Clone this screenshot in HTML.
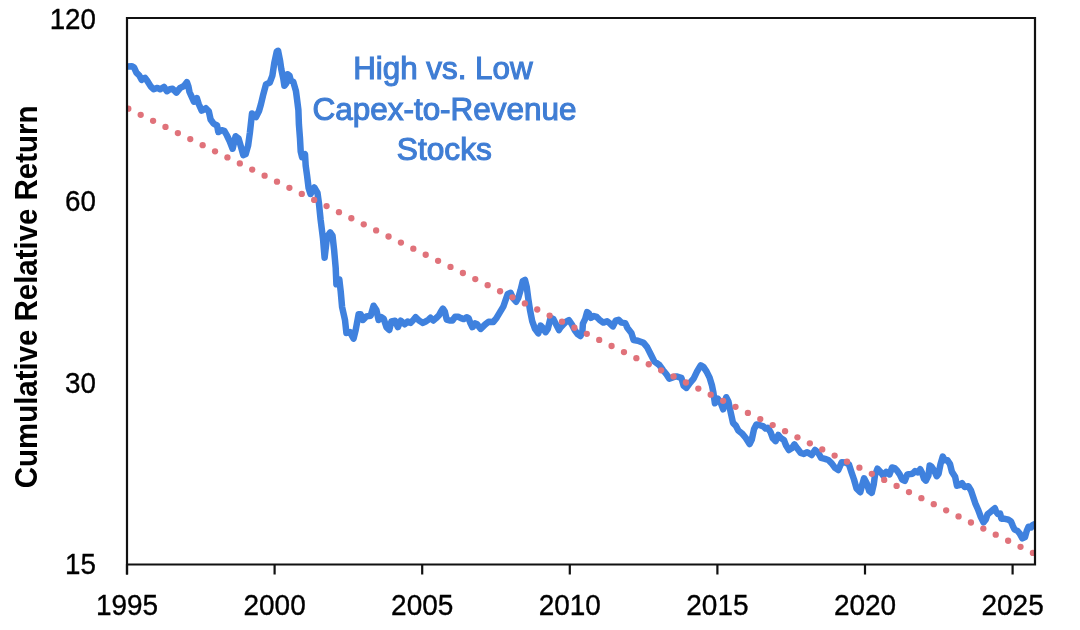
<!DOCTYPE html>
<html><head><meta charset="utf-8"><style>
html,body{margin:0;padding:0;background:#fff;}
svg{display:block;will-change:transform;}
text{font-family:"Liberation Sans",sans-serif;}
</style></head><body>
<svg width="1080" height="630" viewBox="0 0 1080 630">
<rect width="1080" height="630" fill="#fff"/>
<defs><clipPath id="c"><rect x="127" y="18" width="908" height="547"/></clipPath></defs>
<g clip-path="url(#c)">
<polyline points="127.4,66.4 131.7,66.2 134.0,67.4 136.4,72.6 139.3,75.5 141.7,79.8 145.0,77.9 146.9,80.2 150.7,86.4 153.6,89.3 157.4,87.9 160.2,89.3 164.0,86.9 166.9,91.2 169.8,89.3 172.6,88.8 176.4,92.6 180.2,87.9 184.0,86.0 186.9,82.1 188.3,86.0 189.5,92.0 191.5,96.3 193.9,101.7 196.9,98.1 198.7,104.0 201.7,110.6 205.8,108.2 208.8,111.2 210.6,119.5 213.6,123.7 217.1,125.5 218.3,132.0 221.9,130.2 224.3,130.8 226.7,135.0 229.6,141.0 232.6,148.7 235.6,136.2 238.6,138.6 241.0,146.9 243.3,155.2 245.7,154.0 248.1,145.7 249.9,132.6 252.0,113.5 256.0,117.0 259.0,111.0 261.0,104.0 262.9,95.9 266.0,84.4 269.8,82.5 272.4,75.6 274.3,62.9 276.8,51.4 278.1,50.8 280.0,60.3 281.3,69.2 283.2,78.1 284.4,85.7 286.3,83.2 287.6,74.3 289.5,75.6 290.8,80.6 293.3,81.9 295.9,90.8 297.1,99.7 298.4,110.0 298.9,124.3 300.0,138.6 300.7,151.4 302.1,157.1 305.0,154.3 305.7,165.7 307.1,175.7 308.6,188.0 310.5,194.0 314.3,187.5 317.5,193.0 319.0,203.8 320.6,219.7 323.0,238.7 324.6,257.8 327.0,237.1 330.2,232.4 332.5,235.6 334.1,249.8 335.7,268.0 336.4,284.3 339.3,279.3 340.7,291.4 342.1,307.1 345.0,320.0 346.4,332.9 350.0,332.1 353.6,338.6 355.7,330.0 358.6,314.3 360.7,314.3 362.9,320.0 366.4,316.4 370.7,315.7 373.6,305.7 376.4,310.0 378.6,320.0 381.4,317.1 383.6,318.6 386.4,327.1 389.3,330.0 391.4,321.4 395.0,320.7 397.9,327.1 400.7,320.7 404.8,324.3 407.6,321.5 410.5,322.9 412.9,320.5 415.7,317.2 419.0,320.5 422.9,322.9 425.7,321.5 428.6,319.6 430.5,317.7 433.3,320.5 436.2,318.1 439.0,315.3 441.0,311.5 442.9,308.6 444.8,311.5 446.7,319.6 449.5,320.5 452.4,320.5 455.2,316.7 458.1,316.7 461.0,318.1 463.8,319.1 466.7,317.2 468.6,318.1 470.5,323.4 472.4,327.2 475.2,323.4 477.1,324.3 480.7,328.9 485.0,324.6 488.6,321.7 493.3,322.1 496.7,317.7 500.0,312.2 503.3,306.7 505.6,300.0 507.8,293.9 510.6,292.8 512.8,297.8 516.1,301.7 518.3,297.8 520.6,290.0 522.8,281.1 525.0,280.0 526.7,286.7 528.3,298.9 530.0,310.0 532.2,321.1 535.0,328.9 538.3,333.3 540.6,325.6 542.8,327.8 545.6,332.2 547.8,328.9 550.6,317.8 553.3,318.9 556.7,325.6 559.0,330.0 560.5,327.4 563.3,324.5 566.2,321.7 569.0,320.2 571.9,324.5 574.8,330.2 577.6,334.0 580.5,336.0 582.4,331.2 582.9,323.6 585.2,318.8 587.1,312.1 589.0,313.6 591.0,317.9 593.8,316.0 596.7,316.9 599.5,319.8 603.3,322.6 607.1,321.2 610.0,323.6 612.9,326.4 615.7,320.7 618.6,319.8 621.4,322.6 625.2,323.1 627.5,328.0 631.4,332.9 633.6,340.0 637.9,340.7 643.6,342.9 647.1,347.1 650.7,354.3 654.3,361.4 659.3,365.0 662.9,370.0 666.4,374.3 669.3,378.6 673.6,377.1 676.4,376.4 681.4,377.9 683.6,385.7 686.4,387.9 690.0,382.9 693.6,378.6 697.1,371.4 700.7,365.3 703.6,367.1 706.6,371.6 709.6,377.6 711.9,385.2 713.4,392.7 714.9,403.3 717.9,398.7 720.9,403.3 723.2,409.3 726.2,397.2 728.5,401.8 730.7,412.3 733.0,422.9 736.0,425.9 738.3,430.4 742.0,433.4 745.8,438.0 749.6,444.0 751.8,439.5 754.1,428.9 756.4,424.4 759.4,425.0 763.3,426.4 765.6,428.5 767.8,427.8 770.6,432.2 772.8,438.3 775.6,441.1 778.3,435.0 781.1,438.3 783.9,440.0 786.1,445.6 788.9,450.0 791.7,448.3 794.4,444.4 797.2,448.3 800.6,452.8 803.9,453.9 807.2,452.2 811.7,455.0 815.0,450.0 818.3,452.8 821.1,457.8 825.0,458.9 828.3,460.0 831.7,463.3 835.0,467.8 838.3,470.0 841.7,462.2 845.1,462.4 848.9,464.3 851.4,471.9 854.0,479.5 856.5,488.4 860.3,492.2 862.2,484.6 864.1,478.3 866.7,483.3 869.2,491.0 871.7,492.9 873.7,484.6 874.9,475.7 877.5,468.7 880.6,471.9 883.2,475.7 886.3,471.9 889.5,474.4 892.1,467.5 894.6,468.1 897.1,470.6 899.7,474.4 902.2,479.5 904.8,480.8 907.3,474.4 910.5,474.0 912.5,473.7 915.1,471.1 917.6,472.4 920.2,469.2 922.1,473.0 924.0,478.7 925.9,480.6 928.4,475.6 929.7,465.4 931.6,466.7 934.1,470.5 936.7,476.2 938.6,473.7 940.5,464.1 942.8,456.5 944.9,460.3 947.5,460.3 950.0,464.1 951.9,471.7 955.1,476.8 957.0,485.7 959.5,485.1 962.1,483.2 964.6,487.0 968.4,486.3 971.0,490.5 972.6,495.2 975.2,503.1 977.9,509.2 980.5,516.2 983.5,522.3 985.7,519.7 987.5,514.4 990.1,512.3 992.7,510.1 994.9,508.3 996.2,511.8 997.9,514.0 1000.1,513.6 1001.4,518.8 1004.9,518.8 1008.4,519.7 1011.0,521.4 1012.8,525.8 1014.5,529.3 1017.6,531.0 1019.8,533.6 1022.4,538.4 1025.0,537.1 1026.7,531.0 1028.5,526.7 1031.1,527.5 1032.8,524.9 1035.0,524.0" fill="none" stroke="#3f81de" stroke-width="6.5" stroke-linejoin="round" stroke-linecap="round"/>
<g fill="#e0727a"><circle cx="128.30" cy="108.70" r="3.15"/><circle cx="140.69" cy="114.78" r="3.15"/><circle cx="153.08" cy="120.87" r="3.15"/><circle cx="165.48" cy="126.95" r="3.15"/><circle cx="177.87" cy="133.04" r="3.15"/><circle cx="190.26" cy="139.12" r="3.15"/><circle cx="202.65" cy="145.21" r="3.15"/><circle cx="215.04" cy="151.29" r="3.15"/><circle cx="227.43" cy="157.38" r="3.15"/><circle cx="239.83" cy="163.46" r="3.15"/><circle cx="252.22" cy="169.55" r="3.15"/><circle cx="264.61" cy="175.63" r="3.15"/><circle cx="277.00" cy="181.72" r="3.15"/><circle cx="289.39" cy="187.80" r="3.15"/><circle cx="301.78" cy="193.89" r="3.15"/><circle cx="314.18" cy="199.97" r="3.15"/><circle cx="326.57" cy="206.06" r="3.15"/><circle cx="338.96" cy="212.14" r="3.15"/><circle cx="351.35" cy="218.23" r="3.15"/><circle cx="363.74" cy="224.31" r="3.15"/><circle cx="376.14" cy="230.40" r="3.15"/><circle cx="388.53" cy="236.48" r="3.15"/><circle cx="400.92" cy="242.57" r="3.15"/><circle cx="413.31" cy="248.65" r="3.15"/><circle cx="425.70" cy="254.74" r="3.15"/><circle cx="438.09" cy="260.82" r="3.15"/><circle cx="450.49" cy="266.91" r="3.15"/><circle cx="462.88" cy="272.99" r="3.15"/><circle cx="475.27" cy="279.08" r="3.15"/><circle cx="487.66" cy="285.16" r="3.15"/><circle cx="500.05" cy="291.25" r="3.15"/><circle cx="512.45" cy="297.33" r="3.15"/><circle cx="524.84" cy="303.42" r="3.15"/><circle cx="537.23" cy="309.50" r="3.15"/><circle cx="549.62" cy="315.59" r="3.15"/><circle cx="562.01" cy="321.67" r="3.15"/><circle cx="574.40" cy="327.76" r="3.15"/><circle cx="586.80" cy="333.84" r="3.15"/><circle cx="599.19" cy="339.93" r="3.15"/><circle cx="611.58" cy="346.01" r="3.15"/><circle cx="623.97" cy="352.10" r="3.15"/><circle cx="636.36" cy="358.18" r="3.15"/><circle cx="648.75" cy="364.27" r="3.15"/><circle cx="661.15" cy="370.35" r="3.15"/><circle cx="673.54" cy="376.44" r="3.15"/><circle cx="685.93" cy="382.52" r="3.15"/><circle cx="698.32" cy="388.61" r="3.15"/><circle cx="710.71" cy="394.69" r="3.15"/><circle cx="723.11" cy="400.78" r="3.15"/><circle cx="735.50" cy="406.86" r="3.15"/><circle cx="747.89" cy="412.95" r="3.15"/><circle cx="760.28" cy="419.03" r="3.15"/><circle cx="772.67" cy="425.12" r="3.15"/><circle cx="785.06" cy="431.20" r="3.15"/><circle cx="797.46" cy="437.29" r="3.15"/><circle cx="809.85" cy="443.37" r="3.15"/><circle cx="822.24" cy="449.46" r="3.15"/><circle cx="834.63" cy="455.54" r="3.15"/><circle cx="847.02" cy="461.63" r="3.15"/><circle cx="859.42" cy="467.71" r="3.15"/><circle cx="871.81" cy="473.80" r="3.15"/><circle cx="884.20" cy="479.88" r="3.15"/><circle cx="896.59" cy="485.97" r="3.15"/><circle cx="908.98" cy="492.05" r="3.15"/><circle cx="921.37" cy="498.14" r="3.15"/><circle cx="933.77" cy="504.22" r="3.15"/><circle cx="946.16" cy="510.31" r="3.15"/><circle cx="958.55" cy="516.39" r="3.15"/><circle cx="970.94" cy="522.48" r="3.15"/><circle cx="983.33" cy="528.56" r="3.15"/><circle cx="995.72" cy="534.65" r="3.15"/><circle cx="1008.12" cy="540.73" r="3.15"/><circle cx="1020.51" cy="546.82" r="3.15"/><circle cx="1032.90" cy="552.90" r="3.15"/></g>
</g>
<g stroke="#111" stroke-width="2.2" fill="none">
<path d="M127,574.5 V18 H1035 V564.5 H127" stroke-linejoin="miter"/>
<line x1="127.0" y1="564" x2="127.0" y2="574.5"/><line x1="274.6" y1="564" x2="274.6" y2="574.5"/><line x1="422.2" y1="564" x2="422.2" y2="574.5"/><line x1="569.8" y1="564" x2="569.8" y2="574.5"/><line x1="717.4" y1="564" x2="717.4" y2="574.5"/><line x1="865.0" y1="564" x2="865.0" y2="574.5"/><line x1="1012.6" y1="564" x2="1012.6" y2="574.5"/>
</g>
<g font-size="27.5" fill="#000" stroke="#000" stroke-width="0.35"><text transform="translate(127.0,615.3) scale(0.955,1)" font-size="29.3" text-anchor="middle">1995</text><text transform="translate(274.6,615.3) scale(0.955,1)" font-size="29.3" text-anchor="middle">2000</text><text transform="translate(422.2,615.3) scale(0.955,1)" font-size="29.3" text-anchor="middle">2005</text><text transform="translate(569.8,615.3) scale(0.955,1)" font-size="29.3" text-anchor="middle">2010</text><text transform="translate(717.4,615.3) scale(0.955,1)" font-size="29.3" text-anchor="middle">2015</text><text transform="translate(865.0,615.3) scale(0.955,1)" font-size="29.3" text-anchor="middle">2020</text><text transform="translate(1012.6,615.3) scale(0.955,1)" font-size="29.3" text-anchor="middle">2025</text><text transform="translate(96,29) scale(0.935,1)" font-size="29.7" text-anchor="end">120</text><text transform="translate(96,211) scale(0.935,1)" font-size="29.7" text-anchor="end">60</text><text transform="translate(96,393) scale(0.935,1)" font-size="29.7" text-anchor="end">30</text><text transform="translate(96,574.3) scale(0.935,1)" font-size="29.7" text-anchor="end">15</text></g>
<text transform="translate(37,296.9) rotate(-90)" text-anchor="middle" font-size="31" font-weight="bold" fill="#000" textLength="382.5" lengthAdjust="spacingAndGlyphs">Cumulative Relative Return</text>
<g fill="#3f7dd4" font-size="31.1" font-weight="normal" stroke="#3f7dd4" stroke-width="1.1" text-anchor="middle">
<text x="442.9" y="79.2" textLength="179.5" lengthAdjust="spacingAndGlyphs">High vs. Low</text>
<text x="444.5" y="119.8" textLength="264" lengthAdjust="spacingAndGlyphs">Capex-to-Revenue</text>
<text x="444.3" y="160.2" textLength="95" lengthAdjust="spacingAndGlyphs">Stocks</text>
</g>
</svg>
</body></html>
